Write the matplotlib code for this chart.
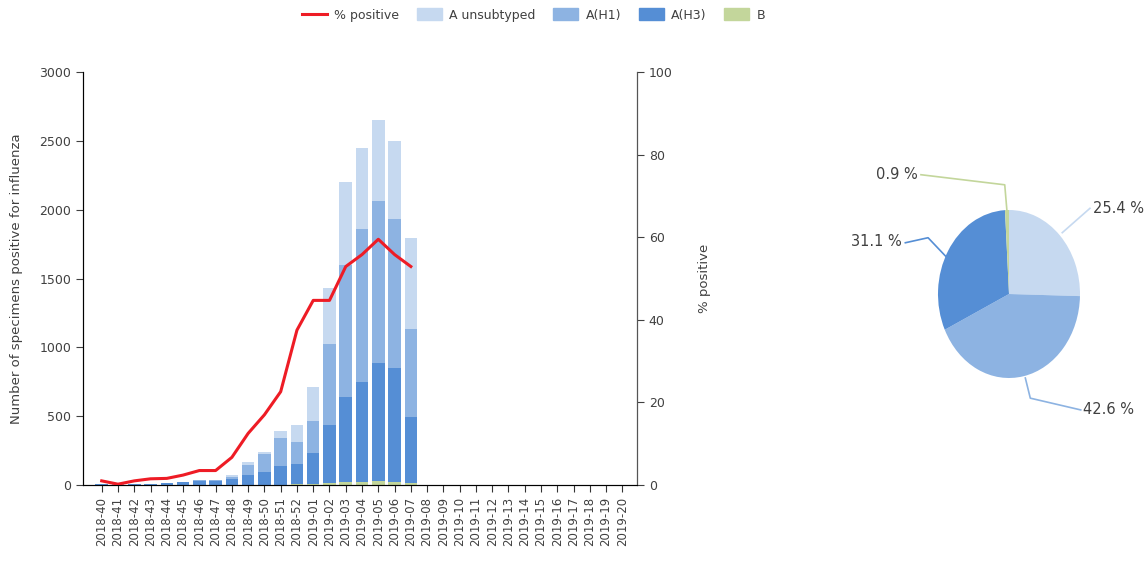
import matplotlib
matplotlib.use("Agg")
import matplotlib.pyplot as plt
import numpy as np
from matplotlib.patches import Patch
from matplotlib.lines import Line2D

# ISO weeks 2018-40 .. 2019-20
weeks = [f"2018-{w}" for w in range(40, 53)] + [f"2019-{w:02d}" for w in range(1, 21)]

# weekly counts (only reported up to 2019-07)
b_counts = [0, 0, 0, 0, 0, 0, 0, 0, 0, 0, 0, 0, 5, 10, 15, 25, 25, 30, 20, 15]
h3_counts = [4, 3, 6, 8, 12, 20, 28, 28, 40, 73, 97, 140, 145, 220, 421, 616, 725, 854, 827, 481]
h1_counts = [1, 1, 1, 1, 2, 3, 6, 6, 15, 72, 128, 202, 164, 237, 586, 957, 1107, 1178, 1085, 637]
unsub_counts = [0, 0, 1, 1, 1, 1, 2, 2, 18, 24, 17, 52, 122, 242, 406, 605, 588, 589, 568, 659]
pct_positive = [1.0, 0.2, 1.0, 1.5, 1.6, 2.4, 3.5, 3.5, 6.7, 12.5, 17.0, 22.6, 37.5,
                44.7, 44.7, 52.9, 55.8, 59.5, 55.8, 52.9]

# season share by type (pie)
pie_labels = ["A unsubtyped", "A(H1)", "A(H3)", "B"]
pie_shares = [25.4, 42.6, 31.1, 0.9]

c_unsub = "#c6d9f0"
c_h1 = "#8db3e2"
c_h3 = "#558ed5"
c_b = "#c3d69b"
c_line = "#ee1c25"
c_text = "#404040"

fig = plt.figure(figsize=(11.45, 5.62), dpi=100)
W, H = 1145, 562

ax = fig.add_axes([83 / W, 1 - 485 / H, 554 / W, 413 / H])
n = len(b_counts)
x = np.arange(n)
bw = 0.77
b = np.array(b_counts)
h3 = np.array(h3_counts)
h1 = np.array(h1_counts)
un = np.array(unsub_counts)
ax.bar(x, b, bw, color=c_b, zorder=2)
ax.bar(x, h3, bw, bottom=b, color=c_h3, zorder=2)
ax.bar(x, h1, bw, bottom=b + h3, color=c_h1, zorder=2)
ax.bar(x, un, bw, bottom=b + h3 + h1, color=c_unsub, zorder=2)

ax.set_xlim(-1.15, len(weeks) - 0.1)
ax.set_ylim(0, 3000)
ax.set_yticks(range(0, 3001, 500))
ax.set_xticks(range(len(weeks)))
ax.set_xticklabels(weeks, rotation=90, fontsize=8.5, color=c_text)
ax.tick_params(axis="y", labelsize=9, colors=c_text, length=5)
ax.tick_params(axis="x", length=5, color="#333333")
ax.set_ylabel("Number of specimens positive for influenza", fontsize=9.5, color=c_text, labelpad=12)
for s in ["top"]:
    ax.spines[s].set_visible(False)
for s in ["left", "bottom", "right"]:
    ax.spines[s].set_color("#333333")

ax2 = ax.twinx()
ax2.plot(x, pct_positive, color=c_line, lw=2.2, zorder=5)
ax2.set_ylim(0, 100)
ax2.set_yticks(range(0, 101, 20))
ax2.tick_params(axis="y", labelsize=9, colors=c_text, length=5)
ax2.spines["top"].set_visible(False)
ax2.spines["right"].set_color("#555555")
ax2.set_ylabel("% positive", fontsize=9.5, color=c_text, labelpad=18)

handles = [Line2D([0], [0], color=c_line, lw=2.2),
           Patch(color=c_unsub), Patch(color=c_h1), Patch(color=c_h3), Patch(color=c_b)]
fig.legend(handles, ["% positive"] + pie_labels, loc="upper center", ncol=5,
           bbox_to_anchor=(0.466, 1.005), frameon=False, fontsize=9,
           handlelength=2.0, handleheight=1.1, columnspacing=1.4, handletextpad=0.6,
           labelcolor=c_text)

# pie, drawn slightly taller than wide
pax = fig.add_axes([938 / W, 1 - 378 / H, 142 / W, 168 / H])
pax.pie(pie_shares, colors=[c_unsub, c_h1, c_h3, c_b], startangle=90, counterclock=False)
pax.set_aspect("auto")
pax.set_xlim(-1, 1)
pax.set_ylim(-1, 1)
pax.axis("off")

labels = [
    ("25.4 %", c_unsub, [(0.75, 0.73), (1.14, 1.02)], (1.18, 1.02), "left"),
    ("42.6 %", c_h1, [(0.23, -1.0), (0.30, -1.24), (1.01, -1.38)], (1.04, -1.38), "left"),
    ("31.1 %", c_h3, [(-0.87, 0.43), (-1.14, 0.67), (-1.46, 0.61)], (-1.51, 0.62), "right"),
    ("0.9 %", c_b, [(-0.03, 1.0), (-0.06, 1.30), (-1.24, 1.42)], (-1.29, 1.42), "right"),
]
for txt, col, pts, tpos, ha in labels:
    xs, ys = zip(*pts)
    pax.plot(xs, ys, color=col, lw=1.2, clip_on=False)
    pax.text(tpos[0], tpos[1], txt, ha=ha, va="center", fontsize=10.5, color=c_text, clip_on=False)

fig.savefig("out.png", dpi=100)
